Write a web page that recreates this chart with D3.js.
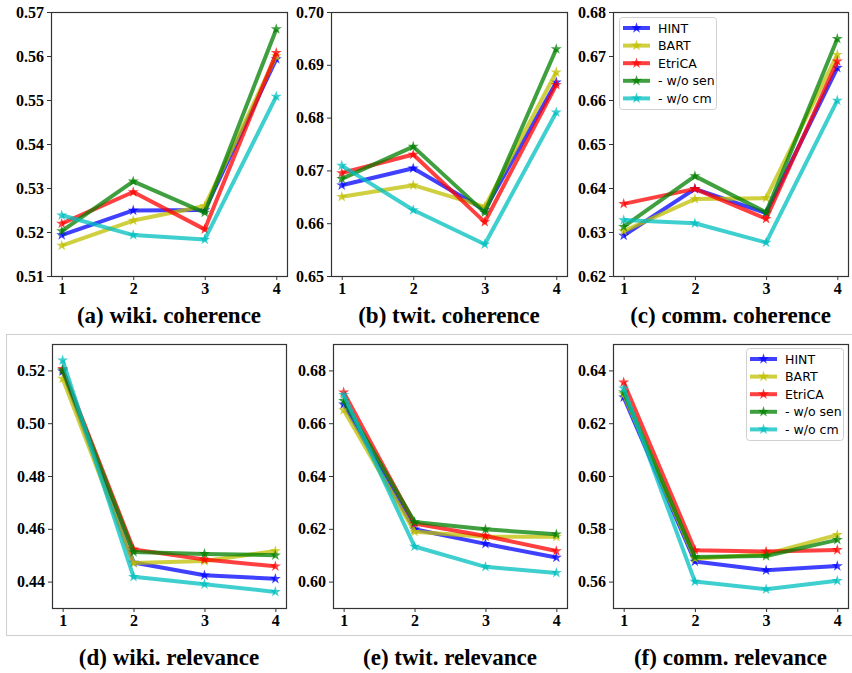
<!DOCTYPE html>
<html>
<head>
<meta charset="utf-8">
<script src="https://cdnjs.cloudflare.com/ajax/libs/d3/7.8.5/d3.min.js"></script>
<style>
  body { margin: 0; background: #fff; }
</style>
</head>
<body>
<div id="chart"></div>
<script>
// Data
const steps = [1, 2, 3, 4];
const methods = ["HINT", "BART", "EtriCA", "- w/o sen", "- w/o cm"];

const wikiCoherence = [
  [0.5193, 0.5249, 0.5250, 0.5593],
  [0.5169, 0.5226, 0.5259, 0.5600],
  [0.5219, 0.5291, 0.5206, 0.5607],
  [0.5202, 0.5315, 0.5244, 0.5661],
  [0.5238, 0.5193, 0.5183, 0.5508]
];
const twitCoherence = [
  [0.6672, 0.6704, 0.6625, 0.6867],
  [0.6650, 0.6672, 0.6631, 0.6886],
  [0.6695, 0.6730, 0.6602, 0.6862],
  [0.6684, 0.6745, 0.6620, 0.6930],
  [0.6709, 0.6625, 0.6560, 0.6810]
];
const commCoherence = [
  [0.6292, 0.6398, 0.6343, 0.6673],
  [0.6302, 0.6375, 0.6377, 0.6703],
  [0.6364, 0.6398, 0.6330, 0.6688],
  [0.6312, 0.6427, 0.6345, 0.6739],
  [0.6327, 0.6320, 0.6276, 0.6599]
];
const wikiRelevance = [
  [0.5197, 0.4472, 0.4424, 0.4411],
  [0.5169, 0.4470, 0.4478, 0.4516],
  [0.5206, 0.4522, 0.4484, 0.4458],
  [0.5201, 0.4512, 0.4505, 0.4500],
  [0.5238, 0.4418, 0.4390, 0.4361]
];
const twitRelevance = [
  [0.6672, 0.6198, 0.6143, 0.6091],
  [0.6650, 0.6189, 0.6170, 0.6170],
  [0.6717, 0.6220, 0.6173, 0.6116],
  [0.6685, 0.6226, 0.6198, 0.6179],
  [0.6708, 0.6133, 0.6056, 0.6033]
];
const commRelevance = [
  [0.6298, 0.5676, 0.5643, 0.5659],
  [0.6310, 0.5687, 0.5704, 0.5777],
  [0.6355, 0.5719, 0.5714, 0.5720],
  [0.6317, 0.5693, 0.5697, 0.5758],
  [0.6332, 0.5600, 0.5571, 0.5603]
];

const titles = [
  "(a) wiki. coherence", "(b) twit. coherence", "(c) comm. coherence",
  "(d) wiki. relevance", "(e) twit. relevance", "(f) comm. relevance"
];
const yDomains = [[0.51, 0.57], [0.65, 0.70], [0.62, 0.68], [0.43, 0.53], [0.59, 0.69], [0.55, 0.65]];
const yTicks = [
  [0.51, 0.52, 0.53, 0.54, 0.55, 0.56, 0.57],
  [0.65, 0.66, 0.67, 0.68, 0.69, 0.70],
  [0.62, 0.63, 0.64, 0.65, 0.66, 0.67, 0.68],
  [0.44, 0.46, 0.48, 0.50, 0.52],
  [0.60, 0.62, 0.64, 0.66, 0.68],
  [0.56, 0.58, 0.60, 0.62, 0.64]
];

const colors = ["#0000ff", "#bfbf00", "#ff0000", "#008000", "#00bfbf"];
const serif = "'Liberation Serif', 'Times New Roman', serif";

// Layout
const frames = [
  { x0: 51, x1: 287, y0: 12, y1: 276 },
  { x0: 331, x1: 567, y0: 12, y1: 276 },
  { x0: 613, x1: 848, y0: 12, y1: 276 },
  { x0: 52, x1: 286, y0: 344, y1: 608 },
  { x0: 333, x1: 567, y0: 344, y1: 608 },
  { x0: 613, x1: 848, y0: 344, y1: 608 }
];
const panelData = [wikiCoherence, twitCoherence, commCoherence, wikiRelevance, twitRelevance, commRelevance];

const svg = d3.select("#chart").append("svg").attr("width", 852).attr("height", 673);

// light box round the bottom row
svg.append("rect")
  .attr("x", 6.5).attr("y", 334.5).attr("width", 850).attr("height", 301)
  .attr("fill", "none").attr("stroke", "#cfcfcf").attr("stroke-width", 1);

const star = d3.symbol().type(d3.symbolStar).size(38);

function styleAxis(a) {
  a.select(".domain").remove();
  a.selectAll(".tick line").attr("stroke", "#333");
  a.selectAll(".tick text")
    .attr("fill", "#000")
    .style("font-family", serif)
    .style("font-size", "16px")
    .style("font-weight", "bold");
}

panelData.forEach((series, p) => {
  const f = frames[p];
  const x = d3.scaleLinear().domain([0.85, 4.15]).range([f.x0, f.x1]);
  const y = d3.scaleLinear().domain(yDomains[p]).range([f.y1, f.y0]);
  const g = svg.append("g");

  const lines = g.append("g");
  series.forEach((vals, i) => {
    const pts = steps.map((s, j) => [s, vals[j]]);
    lines.append("path")
      .attr("d", d3.line().x(d => x(d[0])).y(d => y(d[1]))(pts))
      .attr("fill", "none")
      .attr("stroke", colors[i])
      .attr("stroke-opacity", 0.75)
      .attr("stroke-width", 4)
      .attr("stroke-linejoin", "round");
    lines.selectAll(null)
      .data(pts)
      .join("path")
      .attr("d", star)
      .attr("transform", d => `translate(${x(d[0])},${y(d[1])})`)
      .attr("fill", colors[i])
      .attr("fill-opacity", 0.75);
  });

  // Axes
  g.append("g")
    .attr("transform", `translate(0,${f.y1})`)
    .call(d3.axisBottom(x).tickValues(steps).tickFormat(d3.format("d")).tickSize(4).tickPadding(3))
    .call(styleAxis);
  g.append("g")
    .attr("transform", `translate(${f.x0},0)`)
    .call(d3.axisLeft(y).tickValues(yTicks[p]).tickFormat(d3.format(".2f")).tickSize(4).tickPadding(3))
    .call(styleAxis);

  g.append("rect")
    .attr("x", f.x0 + 0.5).attr("y", f.y0 + 0.5)
    .attr("width", f.x1 - f.x0).attr("height", f.y1 - f.y0)
    .attr("fill", "none").attr("stroke", "#333").attr("stroke-width", 1.2);

  g.append("text")
    .attr("x", (f.x0 + f.x1) / 2)
    .attr("y", p < 3 ? 323 : 665)
    .attr("text-anchor", "middle")
    .style("font-family", serif)
    .style("font-weight", "bold")
    .style("font-size", "23px")
    .text(titles[p]);
});

// Legends
function legend(x0, y0) {
  const lg = svg.append("g").attr("transform", `translate(${x0},${y0})`);
  lg.append("rect")
    .attr("x", 0.5).attr("y", 0.5).attr("width", 97).attr("height", 92)
    .attr("rx", 3).attr("fill", "#fff").attr("fill-opacity", 0.8)
    .attr("stroke", "#d0d0d0");
  methods.forEach((m, i) => {
    const yy = 11 + i * 17.6;
    lg.append("line")
      .attr("x1", 4).attr("x2", 31).attr("y1", yy).attr("y2", yy)
      .attr("stroke", colors[i]).attr("stroke-opacity", 0.75).attr("stroke-width", 4);
    lg.append("path")
      .attr("d", star)
      .attr("transform", `translate(17.5,${yy})`)
      .attr("fill", colors[i]).attr("fill-opacity", 0.75);
    lg.append("text")
      .attr("x", 39).attr("y", yy).attr("dy", "0.36em")
      .style("font-family", "'DejaVu Sans', sans-serif")
      .style("font-size", "12.5px")
      .text(m);
  });
}
legend(619, 17);
legend(746, 348);
</script>
</body>
</html>
